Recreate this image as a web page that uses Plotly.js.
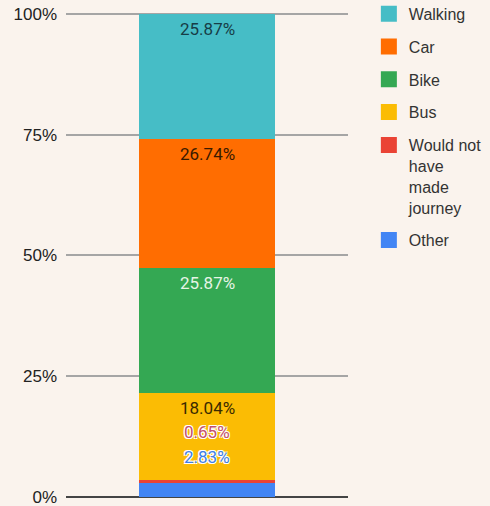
<!DOCTYPE html>
<html><head><meta charset="utf-8">
<script src="https://cdn.plot.ly/plotly-3.0.1.min.js"></script>
<style>html,body{margin:0;padding:0;background:#faf3ed;}</style>
</head><body><div id="chart" style="width:490px;height:506px;"></div>
<script>
const category = [""];
const seriesNames = ["Other", "Would not<br>have<br>made<br>journey", "Bus", "Bike", "Car", "Walking"];
const seriesValues = [2.83, 0.65, 18.04, 25.87, 26.74, 25.87];
const seriesColors = ["#4285f4", "#ea4335", "#fbbc04", "#34a853", "#ff6d01", "#46bdc6"];
const labelColors = ["#3f7fe6", "#c4506e", "#3a2a00", "#e6f4e6", "#3a1a00", "#173d47"];
const tickVals = [0, 25, 50, 75, 100];
const tickText = ["0%", "25%", "50%", "75%", "100%"];

const traces = seriesNames.map((n, i) => ({
  type: "bar", x: category, y: [seriesValues[i]], name: n,
  marker: {color: seriesColors[i], line: {width: 0}},
  width: 0.48, hoverinfo: "none", showlegend: false
}));
// legend entries with larger square swatches, Walking first
for (let i = seriesNames.length - 1; i >= 0; i--) {
  traces.push({type: "scatter", mode: "markers", x: [null], y: [null], name: seriesNames[i],
    legendgroup: "g" + i,
    marker: {symbol: "square", size: 18, color: seriesColors[i]}, hoverinfo: "none"});
}

const tops = [];
let acc = 0;
seriesValues.forEach(v => { acc += v; tops.push(acc); });
const annotations = [];
[2, 3, 4, 5].forEach(i => {
  annotations.push({x: category[0], y: tops[i], yshift: -15, showarrow: false,
    text: seriesValues[i].toFixed(2) + "%", font: {size: 17, color: labelColors[i], family: "Roboto, Arial"}});
});
[[1, -39], [0, -64]].forEach(([i, s]) => {
  annotations.push({x: category[0], y: tops[2], yshift: s, showarrow: false,
    text: seriesValues[i].toFixed(2) + "%",
    font: {size: 17, color: labelColors[i], family: "Roboto, Arial",
      shadow: "1px 1px 0 #fff, -1px -1px 0 #fff, 1px -1px 0 #fff, -1px 1px 0 #fff"}});
});

const layout = {
  width: 490, height: 506, barmode: "stack",
  paper_bgcolor: "#faf3ed", plot_bgcolor: "#faf3ed",
  margin: {l: 66, r: 142, t: 9, b: 9, autoexpand: false},
  font: {family: "Liberation Sans, Arial", size: 16, color: "#222"},
  xaxis: {showticklabels: false, showgrid: false, zeroline: false, range: [-0.5, 0.5], fixedrange: true},
  yaxis: {range: [0, 101], tickvals: tickVals, ticktext: tickText, showgrid: true,
    gridcolor: "#a5a5a5", gridwidth: 2, zeroline: true, zerolinecolor: "#444", zerolinewidth: 1.5,
    ticks: "", ticklabelstandoff: 8, ticklabeloverflow: "allow", tickfont: {size: 17, color: "#222"}},
  showlegend: true,
  legend: {x: 1.074, xanchor: "left", y: 1.025, yanchor: "top", traceorder: "grouped",
    valign: "top", maxheight: 1,
    font: {size: 16, color: "#333"}, bgcolor: "rgba(0,0,0,0)", tracegroupgap: 9, itemsizing: "trace"},
  annotations: annotations
};
Plotly.newPlot("chart", traces, layout, {displayModeBar: false, staticPlot: true});
</script></body></html>
